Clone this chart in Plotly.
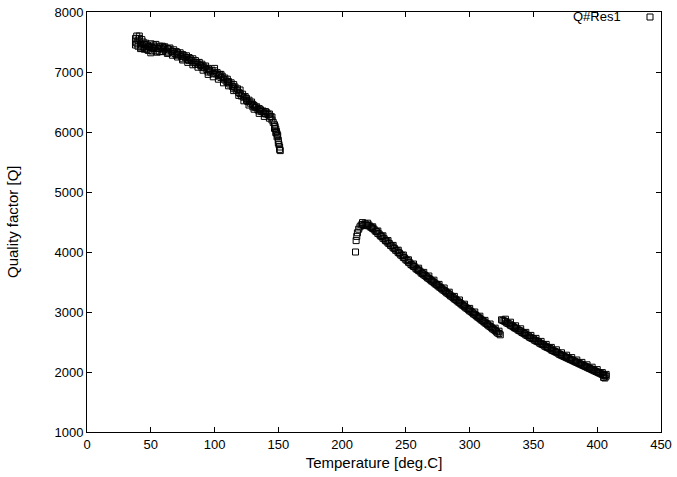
import plotly.graph_objects as go

seg1_points = [
    (38, 7500), (38, 7560), (38, 7450), (39, 7480), (39, 7600), (40, 7530), (40, 7430),
    (41, 7560), (41, 7600), (42, 7470), (42, 7390), (43, 7540), (44, 7420), (44, 7500),
    (45, 7460), (45, 7380), (46, 7400), (46, 7480), (47, 7450), (48, 7360), (48, 7430),
    (49, 7420), (50, 7470), (50, 7320), (51, 7410), (52, 7390), (52, 7450), (53, 7420),
    (54, 7350), (54, 7460), (55, 7400), (56, 7390), (57, 7430), (57, 7340), (58, 7390),
    (59, 7430), (60, 7370), (60, 7410), (61, 7420), (62, 7350), (63, 7390), (64, 7380),
    (64, 7320), (65, 7400), (66, 7350), (67, 7340), (68, 7370), (69, 7310), (70, 7340),
    (70, 7280), (71, 7320), (72, 7290), (73, 7320), (74, 7260), (75, 7290), (75, 7220),
    (76, 7270), (77, 7240), (78, 7270), (79, 7210), (80, 7240), (80, 7190), (81, 7220),
    (82, 7190), (83, 7220), (84, 7160), (85, 7190), (85, 7130), (86, 7160), (87, 7130),
    (88, 7160), (89, 7110), (90, 7130), (90, 7080), (91, 7100), (92, 7070), (93, 7100),
    (94, 7040), (95, 7060), (95, 7000), (96, 7030), (97, 7000), (98, 7030), (99, 6970),
    (100, 7020), (100, 7060), (101, 6970), (102, 6990), (103, 6940), (104, 6960),
    (105, 6910), (105, 6960), (106, 6930), (107, 6880), (108, 6900), (109, 6850),
    (110, 6880), (110, 6830), (111, 6840), (112, 6800), (113, 6820), (114, 6760),
    (115, 6790), (115, 6730), (116, 6750), (117, 6700), (118, 6720), (119, 6660),
    (120, 6700), (120, 6640), (121, 6600), (122, 6630), (123, 6580), (124, 6590),
    (125, 6530), (125, 6560), (126, 6510), (127, 6530), (128, 6480), (129, 6500),
    (130, 6460), (130, 6420), (131, 6440), (132, 6410), (133, 6420), (134, 6370),
    (135, 6390), (135, 6350), (136, 6370), (137, 6340), (138, 6350), (139, 6310),
    (140, 6340), (140, 6300), (141, 6320), (142, 6290), (143, 6300), (144, 6260),
    (145, 6250), (145, 6200), (146, 6160), (147, 6120), (147, 6060), (147.5, 6090),
    (148, 6050), (148, 5990), (148.5, 6010), (149, 5970), (149, 5920), (149.5, 5940),
    (150, 5860), (150, 5820), (150.5, 5790), (151, 5750), (151, 5710), (151.5, 5690),
    # second, slightly lower readings that thicken the band
    (43, 7400), (47, 7380), (51, 7350), (55, 7330), (59, 7340), (63, 7310), (67, 7280),
    (71, 7250), (75, 7200), (79, 7160), (83, 7120), (87, 7080), (91, 7030), (95, 6960),
    (99, 6920), (103, 6880), (107, 6820), (111, 6770), (115, 6690), (119, 6610),
    (123, 6520), (127, 6450), (131, 6380), (135, 6310), (139, 6260), (143, 6230),
]

seg2_points = [
    (210.5, 4000), (211, 4190), (211.5, 4260), (212, 4320), (213, 4380), (214, 4420),
    (215, 4450), (216, 4460), (217, 4440), (218, 4470), (219, 4450), (220, 4440),
    (221, 4450), (222, 4420), (223, 4410), (224, 4390), (225, 4380), (226, 4350),
    (227, 4340), (228, 4310), (229, 4300), (230, 4270), (231, 4260), (232, 4230),
    (233, 4220), (234, 4190), (235, 4180), (236, 4150), (237, 4140), (238, 4110),
    (239, 4100), (240, 4070), (241, 4060), (242, 4030), (243, 4020), (244, 3990),
    (245, 3980), (246, 3950), (247, 3940), (248, 3910), (249, 3900), (250, 3870),
    (251, 3860), (252, 3830), (253, 3820), (254, 3790), (255, 3780), (256, 3760),
    (257, 3750), (258, 3720), (259, 3710), (260, 3690), (261, 3680), (262, 3650),
    (263, 3640), (264, 3620), (265, 3610), (266, 3590), (267, 3570), (268, 3560),
    (269, 3540), (270, 3520), (271, 3510), (272, 3490), (273, 3470), (274, 3460),
    (275, 3440), (276, 3420), (277, 3410), (278, 3390), (279, 3370), (280, 3360),
    (281, 3340), (282, 3320), (283, 3310), (284, 3290), (285, 3270), (286, 3260),
    (287, 3240), (288, 3220), (289, 3210), (290, 3190), (291, 3170), (292, 3160),
    (293, 3140), (294, 3120), (295, 3110), (296, 3090), (297, 3070), (298, 3060),
    (299, 3040), (300, 3020), (301, 3010), (302, 2990), (303, 2970), (304, 2960),
    (305, 2940), (306, 2920), (307, 2910), (308, 2890), (309, 2870), (310, 2860),
    (311, 2840), (312, 2820), (313, 2810), (314, 2790), (315, 2770), (316, 2760),
    (317, 2740), (318, 2720), (319, 2710), (320, 2690), (321, 2670), (322, 2650),
    (323, 2640), (324, 2620),
    # second, slightly higher readings that thicken the band
    (216, 4490), (220, 4480), (224, 4420), (228, 4350), (232, 4270), (236, 4190),
    (240, 4110), (244, 4030), (248, 3950), (252, 3870), (256, 3800), (260, 3730),
    (264, 3660), (268, 3600), (272, 3530), (276, 3460), (280, 3400), (284, 3330),
    (288, 3260), (292, 3200), (296, 3130), (300, 3060), (304, 3000), (308, 2930),
    (312, 2860), (316, 2800), (320, 2730), (323, 2680),
]

seg3_points = [
    (325, 2870), (326, 2860), (327, 2850), (328, 2840), (329, 2820), (330, 2810),
    (331, 2800), (332, 2780), (333, 2770), (334, 2760), (335, 2740), (336, 2730),
    (337, 2720), (338, 2700), (339, 2690), (340, 2680), (341, 2660), (342, 2650),
    (343, 2640), (344, 2620), (345, 2610), (346, 2600), (347, 2580), (348, 2570),
    (349, 2560), (350, 2550), (351, 2530), (352, 2520), (353, 2510), (354, 2500),
    (355, 2480), (356, 2470), (357, 2460), (358, 2450), (359, 2430), (360, 2420),
    (361, 2410), (362, 2400), (363, 2390), (364, 2370), (365, 2360), (366, 2350),
    (367, 2340), (368, 2330), (369, 2320), (370, 2300), (371, 2290), (372, 2280),
    (373, 2270), (374, 2260), (375, 2250), (376, 2240), (377, 2230), (378, 2220),
    (379, 2210), (380, 2200), (381, 2190), (382, 2180), (383, 2170), (384, 2160),
    (385, 2150), (386, 2140), (387, 2130), (388, 2120), (389, 2110), (390, 2100),
    (391, 2090), (392, 2080), (393, 2070), (394, 2060), (395, 2050), (396, 2040),
    (397, 2030), (398, 2020), (399, 2010), (400, 2000), (401, 1990), (402, 1980),
    (403, 1970), (404, 1960), (404, 1990), (405, 1950), (405, 1910), (406, 1940),
    (406, 1900), (407, 1930), (407, 1960),
    # second, slightly higher readings that thicken the band
    (328, 2880), (332, 2830), (336, 2770), (340, 2720), (344, 2660), (348, 2610),
    (352, 2560), (356, 2510), (360, 2460), (364, 2410), (368, 2370), (372, 2320),
    (376, 2280), (380, 2240), (384, 2200), (388, 2160), (392, 2120), (396, 2080),
    (400, 2040),
]

points = seg1_points + seg2_points + seg3_points
temperature = [p[0] for p in points]
quality = [p[1] for p in points]

x_ticks = [0, 50, 100, 150, 200, 250, 300, 350, 400, 450]
y_ticks = [1000, 2000, 3000, 4000, 5000, 6000, 7000, 8000]
series_name = "Q#Res1"
x_title = "Temperature [deg.C]"
y_title = "Quality factor [Q]"

font_family = "Liberation Sans, Arial, sans-serif"
TITLE_SIZE = 15

# Plot frame at x 87..661, y 12..432 in the 677x477 window
FIG_W, FIG_H = 677, 477
M_L, M_R, M_T, M_B = 87, 16, 12, 45
plot_w = FIG_W - M_L - M_R
plot_h = FIG_H - M_T - M_B

fig = go.Figure()
fig.add_trace(go.Scatter(
    x=temperature, y=quality, mode="markers", name=series_name, showlegend=False,
    marker=dict(symbol="square-open", size=6, color="black", line=dict(width=1, color="black")),
))

axis_common = dict(
    showline=True, linecolor="black", linewidth=1, mirror="allticks",
    ticks="inside", ticklen=5, tickcolor="black", tickwidth=1,
    showgrid=False, zeroline=False, automargin=False,
    tickfont=dict(family=font_family, size=13, color="black"),
)

fig.update_layout(
    width=FIG_W, height=FIG_H,
    margin=dict(l=M_L, r=M_R, t=M_T, b=M_B, autoexpand=False),
    paper_bgcolor="white", plot_bgcolor="white",
    font=dict(family=font_family, size=13, color="black"),
    xaxis=dict(range=[0, 450], tickvals=x_ticks, ticktext=[str(v) for v in x_ticks],
               title=dict(text=x_title, standoff=6,
                          font=dict(family=font_family, size=TITLE_SIZE, color="black")),
               **axis_common),
    yaxis=dict(range=[1000, 8000], tickvals=y_ticks, ticktext=[str(v) for v in y_ticks],
               **axis_common),
    showlegend=False,
)

# y-axis title, placed like gnuplot's (near the left window edge)
fig.add_annotation(
    xref="paper", yref="paper", x=(12 - M_L) / plot_w, y=0.5,
    xanchor="center", yanchor="middle", textangle=-90, text=y_title, showarrow=False,
    font=dict(family=font_family, size=TITLE_SIZE, color="black"),
)

# gnuplot-style key: label on the left, sample marker on the right
key_text_right = 623
key_marker_x = 650
key_y = 17
fig.add_annotation(
    xref="paper", yref="paper", x=(key_text_right - M_L) / plot_w, y=1 - (key_y - M_T) / plot_h,
    xanchor="right", yanchor="middle", text=series_name, showarrow=False,
    font=dict(family=font_family, size=13, color="black"),
)
fig.add_shape(
    type="rect", xref="paper", yref="paper",
    x0=(key_marker_x - 3 - M_L) / plot_w, x1=(key_marker_x + 3 - M_L) / plot_w,
    y0=1 - (key_y + 3 - M_T) / plot_h, y1=1 - (key_y - 3 - M_T) / plot_h,
    line=dict(color="black", width=1), fillcolor="rgba(0,0,0,0)",
)

# remove the browser's default 8px page margin so the figure sits at the window's corner
fig.write_html("out.html", config={"displayModeBar": False},
               post_script="document.body.style.margin='0';")
